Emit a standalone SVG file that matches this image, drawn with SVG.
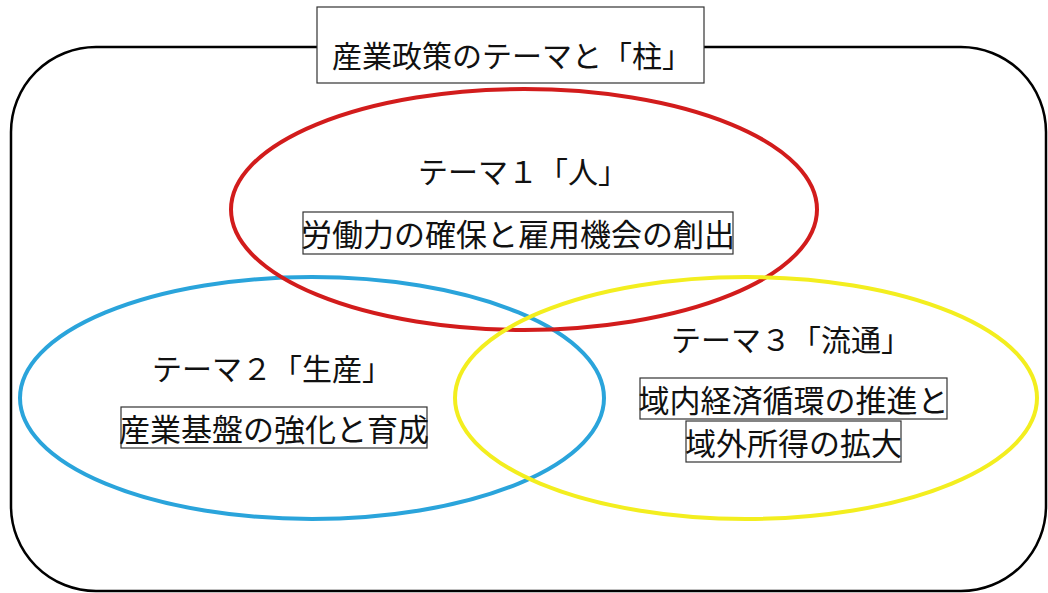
<svg xmlns="http://www.w3.org/2000/svg" width="1048" height="593" viewBox="0 0 1048 593">
<style>
.t{font-family:"Noto Sans CJK JP","Noto Sans CJK SC",sans-serif;font-size:30px;fill:#111;text-anchor:middle}
.s{font-size:31px}
.b{fill:#fff;stroke:#333;stroke-width:1.2}
.e{fill:none;stroke-width:4}
</style>
<rect width="1048" height="593" fill="#fff"/>
<g id="frame"><rect x="11" y="47" width="1035" height="544" rx="85" ry="85" fill="none" stroke="#000" stroke-width="2.5"/></g>
<g id="title"><rect class="b" x="317" y="7" width="387" height="76"/><text class="t" x="512" y="67">産業政策のテーマと「柱」</text></g>
<g id="connectors"></g>
<g id="theme2"><ellipse class="e" cx="312" cy="398" rx="292" ry="121" stroke="#2aa4db"/></g>
<g id="theme1"><ellipse class="e" cx="524" cy="209.5" rx="293" ry="120.5" stroke="#d21c1c"/></g>
<g id="theme3"><ellipse class="e" cx="746" cy="398" rx="291" ry="121" stroke="#f3ee1f"/></g>
<g id="theme1-text"><text class="t" x="523" y="183">テーマ１「人」</text><rect class="b" x="303" y="212" width="430" height="42"/><text class="t s" x="518" y="246">労働力の確保と雇用機会の創出</text></g>
<g id="theme2-text"><text class="t" x="272" y="380">テーマ２「生産」</text><rect class="b" x="121" y="407" width="306" height="41"/><text class="t s" x="274" y="441">産業基盤の強化と育成</text></g>
<g id="theme3-text"><text class="t" x="791" y="351">テーマ３「流通」</text><rect class="b" x="640" y="378" width="307" height="41"/><text class="t s" x="793.5" y="412">域内経済循環の推進と</text><rect class="b" x="686" y="421" width="215" height="41"/><text class="t s" x="793.5" y="455">域外所得の拡大</text></g>
</svg>
